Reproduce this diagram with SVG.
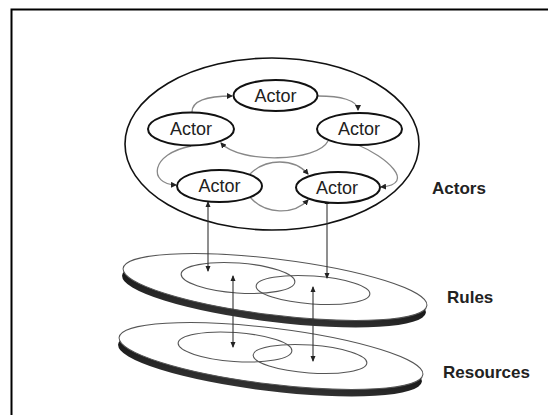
<svg xmlns="http://www.w3.org/2000/svg" width="548" height="415" viewBox="0 0 548 415">
<defs>
<style>
.frame{fill:#fff;stroke:#000;stroke-width:2}
.outer{fill:none;stroke:#111;stroke-width:1.6}
.actor{fill:#fff;stroke:#111;stroke-width:2}
.atxt{font-family:"Liberation Sans",Arial,sans-serif;font-size:18px;fill:#222;text-anchor:middle}
.lbl{font-family:"Liberation Sans",Arial,sans-serif;font-size:17px;font-weight:bold;fill:#222}
.flow{fill:none;stroke:#888;stroke-width:1.3;marker-end:url(#ah)}
.link{fill:none;stroke:#333;stroke-width:1.1;marker-end:url(#ah2);marker-start:url(#ah2s)}
.disk{fill:#fff;stroke:#555;stroke-width:1}
.inner{fill:none;stroke:#555;stroke-width:1.1}
</style>
<marker id="ah" markerWidth="6" markerHeight="6" refX="5" refY="3" orient="auto" markerUnits="userSpaceOnUse"><path d="M0,0 L6,3 L0,6 z" fill="#222"/></marker>
<marker id="ah2" markerWidth="6" markerHeight="6" refX="5" refY="3" orient="auto" markerUnits="userSpaceOnUse"><path d="M0,0.5 L6,3 L0,5.5 z" fill="#222"/></marker>
<marker id="ah2s" markerWidth="6" markerHeight="6" refX="1" refY="3" orient="auto" markerUnits="userSpaceOnUse"><path d="M6,0.5 L0,3 L6,5.5 z" fill="#222"/></marker>
<linearGradient id="shade" x1="0" y1="0" x2="0" y2="1"><stop offset="0" stop-color="#000"/><stop offset="1" stop-color="#333"/></linearGradient>
</defs>
<rect class="frame" x="11.5" y="9.5" width="560" height="420"/>

<g id="resources">
<ellipse cx="270" cy="363" rx="153" ry="28" transform="rotate(7 270 363)" fill="url(#shade)"/>
<ellipse class="disk" cx="271" cy="356" rx="153" ry="28" transform="rotate(7 271 356)"/>
<ellipse class="inner" cx="235" cy="347" rx="57" ry="14.5" transform="rotate(4 235 347)"/>
<ellipse class="inner" cx="310" cy="359" rx="57" ry="14" transform="rotate(4 310 359)"/>
<text class="lbl" x="443" y="378">Resources</text>
</g>

<g id="rules">
<ellipse cx="274" cy="294" rx="153" ry="28" transform="rotate(7 274 294)" fill="url(#shade)"/>
<ellipse class="disk" cx="275" cy="287" rx="153" ry="28" transform="rotate(7 275 287)"/>
<ellipse class="inner" cx="238" cy="278" rx="57" ry="15" transform="rotate(4 238 278)"/>
<ellipse class="inner" cx="313" cy="290" rx="57" ry="14" transform="rotate(4 313 290)"/>
<text class="lbl" x="447" y="303">Rules</text>
</g>

<g id="actors">
<ellipse class="outer" cx="272" cy="144" rx="147" ry="86"/>
<text class="lbl" x="432" y="194">Actors</text>
</g>

<g id="connectors">
<path class="flow" d="M192,112 C192,100 210,96 232,96"/>
<path class="flow" d="M318,96 C340,96 358,100 358,110"/>
<path class="flow" d="M328,141 C318,162 240,164 221,143"/>
<path class="flow" d="M191,146 C150,154 148,184 176,185"/>
<path class="flow" d="M358,145 C385,156 418,184 381,187"/>
<path class="flow" d="M250,174 C266,158 294,158 308,174"/>
<path class="flow" d="M250,197 C265,215 294,215 308,200"/>
<path class="link" d="M208,202 L208,271"/>
<path class="link" d="M327,199 L327,278"/>
<path class="link" d="M233,276 L233,347"/>
<path class="link" d="M313,287 L313,361"/>
</g>

<g id="actor-top"><ellipse class="actor" cx="275.5" cy="95.5" rx="42" ry="15.5"/><text class="atxt" x="275.5" y="102">Actor</text></g>
<g id="actor-left"><ellipse class="actor" cx="191" cy="129" rx="43" ry="16.5"/><text class="atxt" x="191" y="135">Actor</text></g>
<g id="actor-right"><ellipse class="actor" cx="359.5" cy="129" rx="42.5" ry="16"/><text class="atxt" x="359" y="135">Actor</text></g>
<g id="actor-bottom-left"><ellipse class="actor" cx="219.5" cy="186" rx="42.5" ry="16"/><text class="atxt" x="219.5" y="192">Actor</text></g>
<g id="actor-bottom-right"><ellipse class="actor" cx="338" cy="187.5" rx="42" ry="15.5"/><text class="atxt" x="337" y="194">Actor</text></g>
</svg>
